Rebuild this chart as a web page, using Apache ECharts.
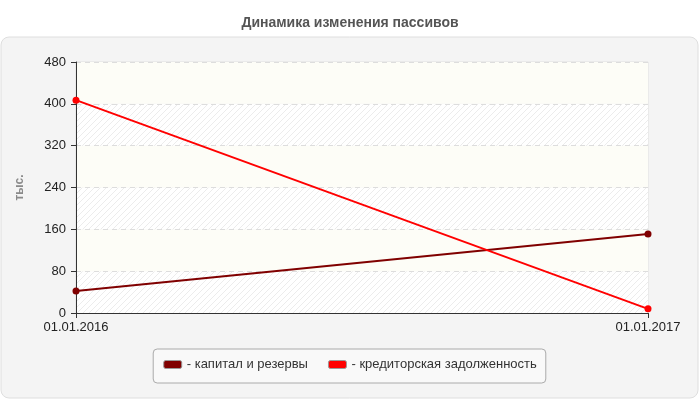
<!DOCTYPE html>
<html>
<head>
<meta charset="utf-8">
<title>Динамика изменения пассивов</title>
<script src="https://cdn.jsdelivr.net/npm/echarts@6/dist/echarts.min.js"></script>
<style>
	html,body{
		margin: 0;
		padding: 0;
		background: #fff;
	}
	#chart{
		width: 700px;
		height: 400px;
	}
</style>
</head>
<body>
<div id="chart"></div>
<script>
// данные графика
let dates = ['01.01.2016', '01.01.2017'];
let kapital = [42, 151];
let kredit = [407, 8];
let seriesNames = ['капитал и резервы', 'кредиторская задолженность'];
let yTicks = [0, 80, 160, 240, 320, 400, 480];

// штриховка для полос фона
let hatch = document.createElement('canvas');
hatch.width = 6;
hatch.height = 6;
let hc = hatch.getContext('2d');
hc.fillStyle = '#ffffff';
hc.fillRect(0, 0, 6, 6);
hc.strokeStyle = '#ececec';
hc.lineWidth = 1;
hc.beginPath();
hc.moveTo(0, 6); hc.lineTo(6, 0);
hc.moveTo(-1, 1); hc.lineTo(1, -1);
hc.moveTo(5, 7); hc.lineTo(7, 5);
hc.stroke();

let myChart = echarts.init(document.getElementById('chart'));
let font = 'Liberation Sans, Arial, sans-serif';
let option = {
	animation: false,
	textStyle: { fontFamily: font },
	title: {
		text: 'Динамика изменения пассивов',
		left: 'center',
		top: 11,
		textStyle: { color: '#555', fontSize: 14, fontWeight: 'bold', fontFamily: font }
	},
	graphic: [{
		type: 'rect',
		z: -10,
		shape: { x: 1, y: 37, width: 697, height: 361, r: 8 },
		style: { fill: '#f4f4f4', stroke: '#dedede', lineWidth: 1 }
	}],
	legend: {
		bottom: 17,
		left: 'center',
		data: seriesNames,
		formatter: '- {name}',
		icon: 'roundRect',
		itemWidth: 18,
		itemHeight: 8,
		itemGap: 20,
		padding: [9, 9, 12, 10],
		backgroundColor: '#f9f9f9',
		borderColor: '#aaa',
		borderWidth: 1,
		borderRadius: 4,
		itemStyle: { borderColor: '#999', borderWidth: 1 },
		textStyle: { color: '#333', fontSize: 13, fontFamily: font }
	},
	grid: {
		left: 76,
		right: 52,
		top: 62,
		bottom: 87,
		show: true,
		borderColor: '#e0e0e0',
		backgroundColor: 'transparent'
	},
	xAxis: {
		type: 'category',
		boundaryGap: false,
		data: dates,
		axisLine: { lineStyle: { color: '#333', width: 1 } },
		axisTick: { show: true, length: 5, lineStyle: { color: '#333' } },
		axisLabel: { color: '#222', fontSize: 13, margin: 8, fontFamily: font }
	},
	yAxis: {
		type: 'value',
		min: yTicks[0],
		max: yTicks[yTicks.length - 1],
		interval: 80,
		name: 'тыс.',
		nameLocation: 'middle',
		nameGap: 50,
		nameTextStyle: { color: '#8a8a8a', fontSize: 12, fontWeight: 'bold', fontFamily: font },
		axisLine: { show: true, lineStyle: { color: '#333', width: 1 } },
		axisTick: { show: true, length: 5, lineStyle: { color: '#333' } },
		axisLabel: { color: '#222', fontSize: 13, margin: 10, fontFamily: font },
		splitLine: { show: true, lineStyle: { color: '#ddd', type: [5, 4] } },
		splitArea: {
			show: true,
			areaStyle: { color: [{ image: hatch, repeat: 'repeat' }, '#fdfdf7'] }
		}
	},
	series: [
		{
			name: seriesNames[0],
			type: 'line',
			data: kapital,
			color: '#800000',
			symbol: 'circle',
			symbolSize: 7,
			lineStyle: { width: 2, color: '#800000' },
			itemStyle: { color: '#800000' }
		},
		{
			name: seriesNames[1],
			type: 'line',
			data: kredit,
			color: '#ff0000',
			symbol: 'circle',
			symbolSize: 7,
			lineStyle: { width: 2, color: '#ff0000' },
			itemStyle: { color: '#ff0000' }
		}
	]
};
myChart.setOption(option);
</script>
</body>
</html>
